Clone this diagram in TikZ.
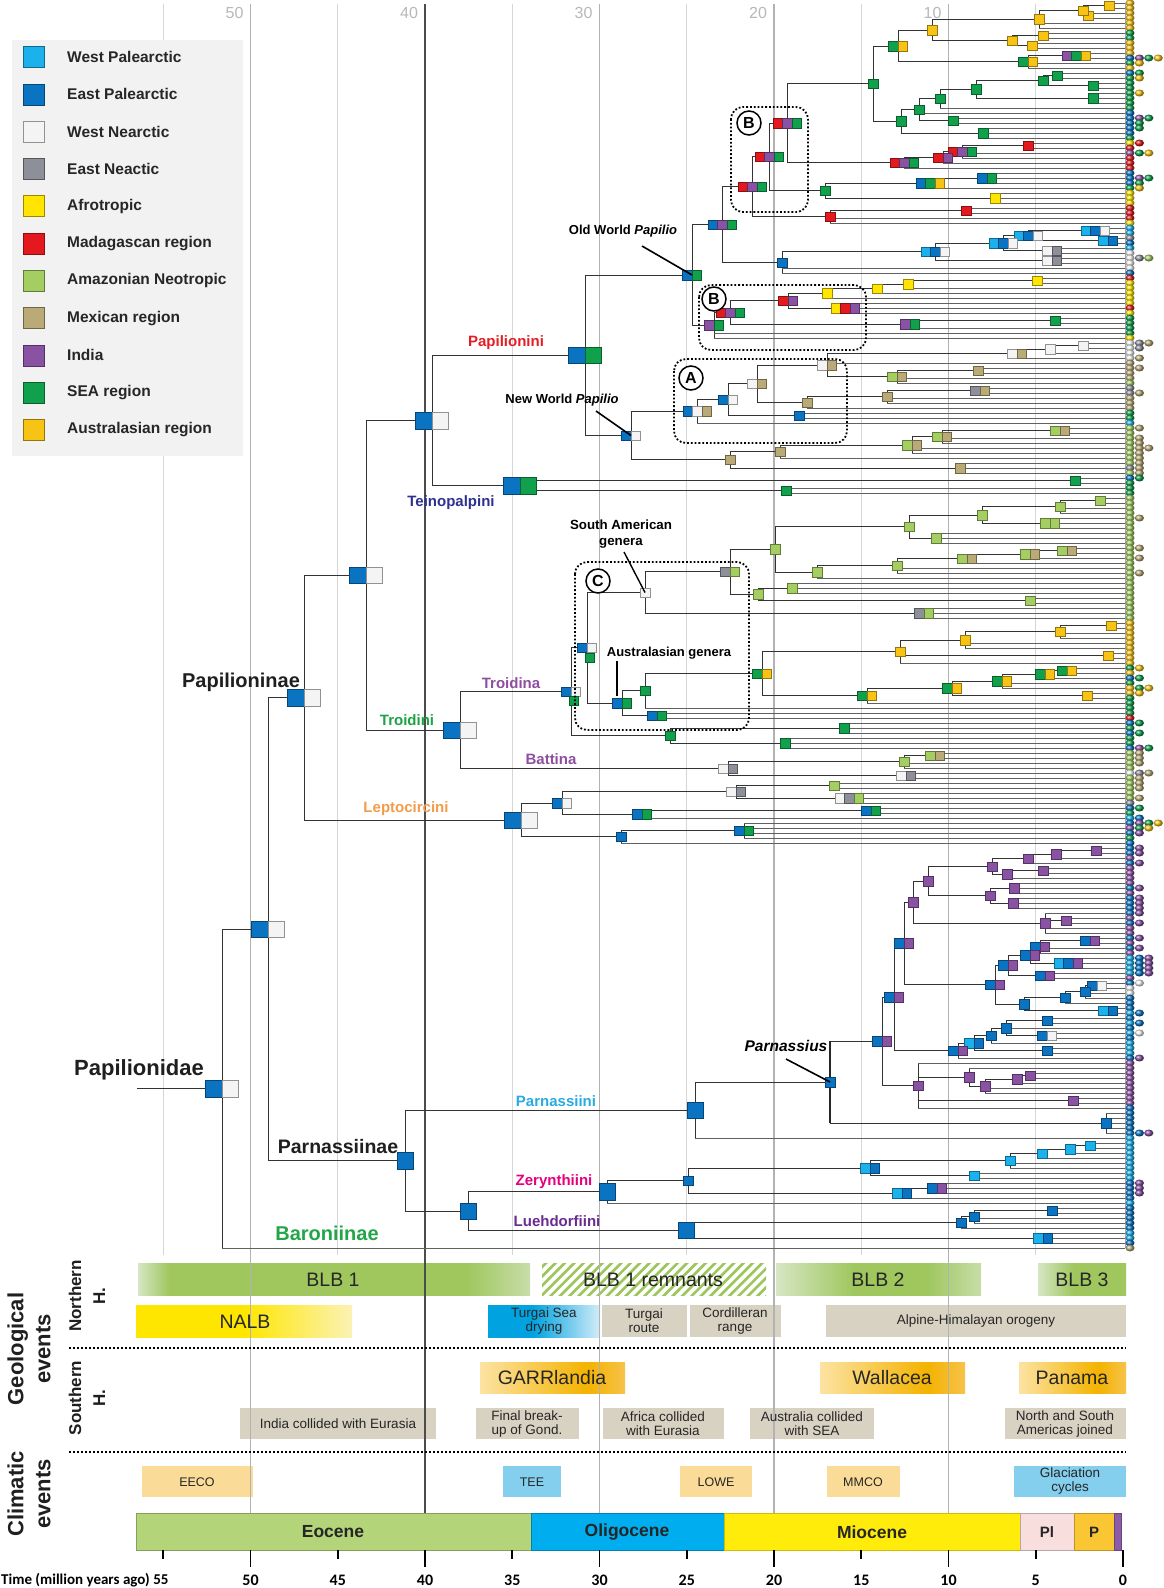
\documentclass[tikz,border=0pt]{standalone}
\usepackage{fontspec}
\setmainfont{Liberation Sans}
\newfontfamily\carl{Carlito}
\usetikzlibrary{shadings}
\definecolor{cW}{HTML}{1AB1EC}
\definecolor{cE}{HTML}{0B74C2}
\definecolor{cN}{HTML}{F4F4F4}
\definecolor{cK}{HTML}{8E9099}
\definecolor{cA}{HTML}{FFE500}
\definecolor{cM}{HTML}{E3191E}
\definecolor{cZ}{HTML}{A4CD62}
\definecolor{cX}{HTML}{B9AA78}
\definecolor{cI}{HTML}{8A52A3}
\definecolor{cS}{HTML}{11A04B}
\definecolor{cU}{HTML}{F7C415}
\definecolor{gLa}{HTML}{D6E6C3}
\definecolor{gM}{HTML}{9FC75E}
\definecolor{gLb}{HTML}{C8DDA8}
\definecolor{yA}{HTML}{FFE600}
\definecolor{yB}{HTML}{FBF2B5}
\definecolor{bA}{HTML}{00A3E0}
\definecolor{bB}{HTML}{D3ECF8}
\definecolor{oA}{HTML}{FCE3A3}
\definecolor{oB}{HTML}{F4B300}
\definecolor{oC}{HTML}{F6C24A}
\definecolor{cGry}{HTML}{D8D2C3}
\definecolor{cClO}{HTML}{FADC98}
\definecolor{cClB}{HTML}{84CEEE}
\definecolor{eoc}{HTML}{B4D47A}
\definecolor{oli}{HTML}{00AEEF}
\definecolor{mio}{HTML}{FFEC0A}
\definecolor{plio}{HTML}{F8DEDC}
\definecolor{plei}{HTML}{FBC634}
\definecolor{holo}{HTML}{8E5CA7}
\definecolor{legbg}{HTML}{F2F2F2}
\definecolor{hatch}{HTML}{9CC55A}
\definecolor{lPapni}{HTML}{E31E24}
\definecolor{lTein}{HTML}{2E3192}
\definecolor{lTroi}{HTML}{1BA345}
\definecolor{lPurp}{HTML}{8E4FA0}
\definecolor{lLept}{HTML}{F39C4A}
\definecolor{lParn}{HTML}{29ABE2}
\definecolor{lZer}{HTML}{E6007E}
\definecolor{lLue}{HTML}{6A2C8E}
\definecolor{lBar}{HTML}{22A648}
\pgfdeclarehorizontalshading{blbone}{100bp}{color(0bp)=(gLa); color(25bp)=(gLa); color(29bp)=(gM); color(67bp)=(gM); color(75bp)=(gLb); color(100bp)=(gLb)}
\pgfdeclarehorizontalshading{blbtwo}{100bp}{color(0bp)=(gLa); color(25bp)=(gLa); color(44bp)=(gM); color(62bp)=(gM); color(75bp)=(gLb); color(100bp)=(gLb)}
\pgfdeclarehorizontalshading{blbthree}{100bp}{color(0bp)=(gLa); color(25bp)=(gLa); color(45bp)=(gM); color(75bp)=(gM); color(100bp)=(gM)}
\pgfdeclarehorizontalshading{nalb}{100bp}{color(0bp)=(yA); color(25bp)=(yA); color(50bp)=(yA); color(75bp)=(yB); color(100bp)=(yB)}
\pgfdeclarehorizontalshading{turgai}{100bp}{color(0bp)=(bA); color(25bp)=(bA); color(45bp)=(bA); color(75bp)=(bB); color(100bp)=(bB)}
\pgfdeclarehorizontalshading{orng}{100bp}{color(0bp)=(oA); color(25bp)=(oA); color(62bp)=(oB); color(75bp)=(oC); color(100bp)=(oC)}
\newcommand\fs[2]{\fontsize{#1}{#2}\selectfont}
\tikzset{
  br/.style={draw=black!80, line width=1pt},
  tipl/.style={draw=black!62, line width=0.8pt},
  boxst/.style={fill=#1, draw=#1!60!black, line width=0.5pt},
  gbox/.style={fill=cGry},
  ptxt/.style={font=\fs{13.5}{15}, text=black!85, align=center, inner sep=0pt},
  btxt/.style={font=\fs{19.5}{22}, text=black!85, inner sep=0pt},
  ctxt/.style={font=\fs{12.5}{15}, text=black!85, align=center, inner sep=0pt},
  clab/.style={font=\fs{15}{17}\bfseries, inner sep=0pt},
  ann/.style={font=\fs{13}{15}\bfseries, inner sep=0pt, align=center},
  dotbox/.style={draw=black, line width=1.8pt, dash pattern=on 1.8pt off 2pt, rounded corners=12pt},
  circ/.style={draw=black, line width=1.5pt, circle, minimum size=24pt, inner sep=0pt, font=\fs{16}{16}\bfseries},
  sep/.style={draw=black, line width=2pt, dash pattern=on 2pt off 2pt},
  grid10/.style={draw=black!30, line width=1.1pt},
  grid40/.style={draw=black!70, line width=1.3pt},
  grid5/.style={draw=black!16, line width=1pt},
}
\newif\iflinepass
\newcommand\boxgrp[4]{%
  \gdef\nb{0}%
  \foreach \cc in {#4}{\xdef\nb{\the\numexpr\nb+1\relax}}%
  \foreach \cc [count=\kk from 0] in {#4}{%
    \pgfmathsetmacro\ddx{(\kk-\nb/2)*#1}%
    \pgfmathsetmacro\hhs{#1/2}%
    \path[boxst=c\cc] ([xshift=\ddx pt,yshift=-\hhs pt]#2,#3) rectangle ++(#1pt,#1pt);}}
\newcommand\tnode[8]{%
  \iflinepass
    \draw[br] (#4,#3) -- (#2,#3);
    \draw[br] (#2,#5) -- (#2,#6);
  \else
    \coordinate (#1) at (#2,#3);
    \boxgrp{#7}{#2}{#3}{#8}%
  \fi}
\newcommand\ttip[3]{%
  \iflinepass
    \draw[tipl] (#2,#1) -- (1125,#1);
  \else
    \shade[ball color=c#3] (1130,#1) ellipse [x radius=4.5pt,y radius=3.4pt];
  \fi}
\newcommand\tipx[2]{\foreach \cc [count=\kk] in {#2}{\shade[ball color=c\cc] ({1130+9.4*\kk},#1) ellipse [x radius=4.6pt,y radius=3.5pt];}}
\newcommand\treenodes{%
\tnode{u1}{1109}{0.5}{1083}{0}{1}{9.5}{U}
\tnode{u2}{1088}{2.5}{1083}{2}{3}{9.5}{U}
\tnode{u3}{1083}{1.5}{1039}{0.5}{2.5}{9.5}{U}
\tnode{u4}{1039}{3.25}{932}{1.5}{5}{9.5}{U}
\tnode{u5}{1043}{6.5}{1012}{6}{7}{9.5}{U}
\tnode{u6}{1032}{8.5}{1012}{8}{9}{9.5}{U}
\tnode{u7}{1012}{7.5}{932}{6.5}{8.5}{9.5}{U}
\tnode{u8}{932}{5.4}{898}{3.25}{7.5}{9.5}{U}
\tnode{u9}{1076}{10.5}{1028}{10}{11}{9.5}{I,S,U}
\tnode{u10}{1028}{11.75}{898}{10.5}{13}{9.5}{S,U}
\tnode{n6}{898}{8.6}{873}{5.4}{11.75}{9.5}{S,U}
\tnode{g1}{1057}{14.5}{1043}{14}{15}{9.5}{S}
\tnode{g2}{1093}{16.5}{1043}{16}{17}{9.5}{S}
\tnode{g3}{1043}{15.5}{976}{14.5}{16.5}{9.5}{S}
\tnode{g4}{1093}{19}{976}{18}{20}{9.5}{S}
\tnode{g5}{976}{17.25}{940}{15.5}{19}{9.5}{S}
\tnode{g6}{940}{19.1}{919}{17.25}{21}{9.5}{S}
\tnode{g8}{953}{23.5}{919}{23}{24}{9.5}{S}
\tnode{g7}{919}{21.3}{901}{19.1}{23.5}{9.5}{S}
\tnode{g9}{983}{26}{901}{25}{27}{9.5}{S}
\tnode{n66}{901}{23.65}{873}{21.3}{26}{9.5}{S}
\tnode{n5}{873}{16.1}{787}{8.6}{23.65}{9.5}{S}
\tnode{m1}{1028}{28.5}{962}{28}{29}{9.5}{M}
\tnode{m2}{962}{29.75}{943}{28.5}{31}{9.5}{M,I,S}
\tnode{m3}{943}{30.9}{904}{29.75}{32}{9.5}{M,I}
\tnode{n13}{904}{31.95}{787}{30.9}{33}{9.5}{M,I,S}
\tnode{n4}{787}{24}{769}{16.1}{31.95}{9.5}{M,I,S}
\tnode{n21}{987}{35}{930}{34}{36}{9.5}{E,S}
\tnode{n20}{930}{36}{825}{35}{37}{9.5}{E,S,U}
\tnode{n23}{995}{39}{825}{38}{40}{9.5}{A}
\tnode{n17}{825}{37.5}{769}{36}{39}{9.5}{S}
\tnode{n3}{769}{30.75}{752}{24}{37.5}{9.5}{M,I,S}
\tnode{n19}{966}{41.5}{830}{41}{42}{9.5}{M}
\tnode{n18}{830}{42.75}{752}{41.5}{44}{9.5}{M}
\tnode{n2}{752}{36.75}{722}{30.75}{42.75}{9.5}{M,I,S}
\tnode{n30}{1095}{45.5}{1028}{45}{46}{9.5}{W,E,N}
\tnode{n31}{1108}{47.5}{1028}{47}{48}{9.5}{W,E}
\tnode{n28}{1028}{46.5}{1003}{45.5}{47.5}{9.5}{W,E,N}
\tnode{n29}{1052}{49.5}{1003}{49}{50}{9.5}{N,K}
\tnode{n26}{1003}{48}{935}{46.5}{49.5}{9.5}{W,E,N}
\tnode{n27}{1052}{51.5}{935}{51}{52}{9.5}{N,K}
\tnode{n25}{935}{49.75}{782}{48}{51.5}{9.5}{W,E,N}
\tnode{n24}{782}{51.9}{722}{49.75}{54}{9.5}{E}
\tnode{n1}{722}{44.3}{692}{36.75}{51.9}{9.5}{E,I,S}
\tnode{n38}{1037}{55.5}{908}{55}{56}{9.5}{A}
\tnode{n37}{908}{56.25}{877}{55.5}{57}{9.5}{A}
\tnode{n36}{877}{57.1}{827}{56.25}{58}{9.5}{A}
\tnode{n35}{827}{58.05}{788}{57.1}{59}{9.5}{A}
\tnode{n39}{845}{61}{788}{60}{62}{9.5}{A,M,I}
\tnode{n34}{788}{59.5}{730}{58.05}{61}{9.5}{M,I}
\tnode{n41}{1055}{63.5}{910}{63}{64}{9.5}{S}
\tnode{n40}{910}{64.25}{730}{63.5}{65}{9.5}{I,S}
\tnode{n33}{730}{61.9}{714}{59.5}{64.25}{9.5}{M,I,S}
\tnode{n32}{714}{64.45}{692}{61.9}{67}{9.5}{I,S}
\tnode{OW}{692}{54.4}{585}{44.3}{64.45}{9.5}{E,S}
\tnode{n57}{1083}{68.5}{1050}{68}{69}{9.5}{N}
\tnode{n58}{1050}{69.25}{1017}{68.5}{70}{9.5}{N}
\tnode{n59}{1017}{70.1}{827}{69.25}{71}{9.5}{N,X}
\tnode{n60}{978}{73.5}{897}{73}{74}{9.5}{X}
\tnode{n61}{897}{74.75}{827}{73.5}{76}{9.5}{Z,X}
\tnode{n55}{827}{72.4}{757}{70.1}{74.75}{9.5}{N,X}
\tnode{n62}{980}{77.5}{887}{77}{78}{9.5}{K,X}
\tnode{n63}{887}{78.75}{807}{77.5}{80}{9.5}{X}
\tnode{n53}{807}{79.9}{757}{78.75}{81}{9.5}{X}
\tnode{n52}{757}{76.15}{728}{72.4}{79.9}{9.5}{N,X}
\tnode{n51}{799}{82.5}{728}{82}{83}{9.5}{E}
\tnode{n50}{728}{79.3}{697}{76.15}{82.5}{9.5}{E,N}
\tnode{n43}{697}{81.65}{631}{79.3}{84}{9.5}{E,N,X}
\tnode{n49}{1060}{85.5}{942}{85}{86}{9.5}{Z,X}
\tnode{n48}{942}{86.75}{912}{85.5}{88}{9.5}{Z,X}
\tnode{n47}{912}{88.4}{780}{86.75}{90}{9.5}{Z,X}
\tnode{n45}{780}{89.7}{730}{88.4}{91}{9.5}{X}
\tnode{n46}{960}{93}{730}{92}{94}{9.5}{X}
\tnode{n44}{730}{91.35}{631}{89.7}{93}{9.5}{X}
\tnode{NW}{631}{86.5}{585}{81.65}{91.35}{9.5}{E,N}
\tnode{PAPni}{585}{70.45}{432}{54.4}{86.5}{16.5}{E,S}
\tnode{n64}{1075}{95.5}{520}{95}{96}{9.5}{S}
\tnode{n65}{786}{97.5}{520}{97}{98}{9.5}{S}
\tnode{TEIN}{520}{96.5}{432}{95.5}{97.5}{16.5}{E,S}
\tnode{N432}{432}{83.5}{366}{70.45}{96.5}{16.5}{E,N}
\tnode{s8}{1100}{99.5}{1060}{99}{100}{9.5}{Z}
\tnode{s9}{1060}{100.75}{982}{99.5}{102}{9.5}{Z}
\tnode{s10}{1050}{104}{982}{103}{105}{9.5}{Z,Z}
\tnode{s6}{982}{102.4}{909}{100.75}{104}{9.5}{Z}
\tnode{s7}{936}{107}{909}{106}{108}{9.5}{Z}
\tnode{s4}{909}{104.7}{775}{102.4}{107}{9.5}{Z}
\tnode{s11}{1067}{109.5}{1030}{109}{110}{9.5}{Z,X}
\tnode{s12}{1030}{110.25}{967}{109.5}{111}{9.5}{Z,X}
\tnode{s13}{967}{111.1}{897}{110.25}{112}{9.5}{Z,X}
\tnode{s14}{897}{112.55}{817}{111.1}{114}{9.5}{Z}
\tnode{s5}{817}{113.8}{775}{112.55}{115}{9.5}{Z}
\tnode{s2}{775}{109.25}{730}{104.7}{113.8}{9.5}{Z}
\tnode{s15}{792}{117}{758}{116}{118}{9.5}{Z}
\tnode{s16}{1030}{119.5}{758}{119}{120}{9.5}{Z}
\tnode{s3}{758}{118.25}{730}{117}{119.5}{9.5}{Z}
\tnode{s1}{730}{113.75}{645}{109.25}{118.25}{9.5}{K,Z}
\tnode{s17}{924}{122}{645}{121}{123}{9.5}{K,Z}
\tnode{SA}{645}{117.9}{587}{113.75}{122}{9.5}{N}
\tnode{a6}{1111}{124.5}{1060}{124}{125}{9.5}{U}
\tnode{a7}{1060}{125.75}{965}{124.5}{127}{9.5}{U}
\tnode{a8}{965}{127.4}{900}{125.75}{129}{9.5}{U}
\tnode{a9}{1108}{130.5}{900}{130}{131}{9.5}{U}
\tnode{a3}{900}{129.7}{762}{127.4}{132}{9.5}{U}
\tnode{a10}{1067}{133.5}{1045}{133}{134}{9.5}{S,U}
\tnode{a11}{1045}{134.25}{1002}{133.5}{135}{9.5}{S,U}
\tnode{a12}{1002}{135.6}{952}{134.25}{137}{9.5}{S,U}
\tnode{a13}{1087}{138.5}{952}{138}{139}{9.5}{U}
\tnode{a14}{952}{137.05}{867}{135.6}{138.5}{9.5}{S,U}
\tnode{a4}{867}{138.5}{762}{137.05}{140}{9.5}{S,U}
\tnode{a2}{762}{134.1}{645}{129.7}{138.5}{9.5}{S,U}
\tnode{a1}{645}{137.55}{622}{134.1}{141}{9.5}{S}
\tnode{a15}{657}{142.5}{622}{142}{143}{9.5}{E,S}
\tnode{AUS}{622}{140}{587}{137.55}{142.5}{9.5}{E,S}
\tnode{CC}{587}{128.95}{571}{117.9}{140}{9.5}{E,N}
\tnode{t2}{844}{145}{670}{144}{146}{9.5}{S}
\tnode{t3}{785}{148}{670}{147}{149}{9.5}{S}
\tnode{t1}{670}{146.5}{571}{145}{148}{9.5}{S}
\tnode{TROIDINA}{571}{137.7}{460}{128.95}{146.5}{9.5}{E,N}
\tnode{b2}{935}{150.5}{904}{150}{151}{9.5}{Z,X}
\tnode{b1}{904}{151.75}{728}{150.5}{153}{9.5}{Z}
\tnode{b3}{906}{154.5}{728}{154}{155}{9.5}{N,K}
\tnode{BATT}{728}{153.1}{460}{151.75}{154.5}{9.5}{N,K}
\tnode{TROIDINI}{460}{145.4}{366}{137.7}{153.1}{16.5}{E,N}
\tnode{l4}{834}{156.5}{736}{156}{157}{9.5}{Z}
\tnode{l5}{849}{159}{736}{158}{160}{9.5}{N,K,Z}
\tnode{l2}{736}{157.75}{562}{156.5}{159}{9.5}{N,K}
\tnode{l6}{871}{161.5}{642}{161}{162}{9.5}{E,S}
\tnode{l3}{642}{162.25}{562}{161.5}{163}{9.5}{E,S}
\tnode{l1}{562}{160}{521}{157.75}{162.25}{9.5}{E,N}
\tnode{l8}{744}{165.5}{621}{164}{167}{9.5}{E,S}
\tnode{l7}{621}{166.75}{521}{165.5}{168}{9.5}{E}
\tnode{LEPTO}{521}{163.4}{304}{160}{166.75}{16.5}{E,N}
\tnode{N366}{366}{114.45}{304}{83.5}{145.4}{16.5}{E,N}
\tnode{PAPnae}{304}{138.9}{268}{114.45}{163.4}{16.5}{E,N}
\tnode{p1}{1096}{169.5}{1056}{169}{170}{9.5}{I}
\tnode{p2}{1056}{170.25}{1028}{169.5}{171}{9.5}{I}
\tnode{p3}{1028}{171.1}{992}{170.25}{172}{9.5}{I}
\tnode{p4}{1043}{173.5}{1007}{173}{174}{9.5}{I}
\tnode{p5}{1007}{174.25}{992}{173.5}{175}{9.5}{I}
\tnode{p6}{992}{172.7}{928}{171.1}{174.25}{9.5}{I}
\tnode{p7}{1014}{177}{990}{176}{178}{9.5}{I}
\tnode{p8}{1013}{180}{990}{179}{181}{9.5}{I}
\tnode{p9}{990}{178.5}{928}{177}{180}{9.5}{I}
\tnode{p10}{928}{175.6}{913}{172.7}{178.5}{9.5}{I}
\tnode{p11}{1066}{183.5}{1045}{183}{184}{9.5}{I}
\tnode{p12}{1045}{184}{913}{182}{186}{9.5}{I}
\tnode{p13}{913}{179.8}{904}{175.6}{184}{9.5}{I}
\tnode{q1}{1090}{187.5}{1040}{187}{188}{9.5}{E,I}
\tnode{q2}{1040}{188.75}{1030}{187.5}{190}{9.5}{E,I}
\tnode{q3}{1068}{192}{1030}{191}{193}{9.5}{W,E,I}
\tnode{q4}{1030}{190.4}{1008}{188.75}{192}{9.5}{E,I}
\tnode{q5}{1045}{194.5}{1008}{194}{195}{9.5}{E,I}
\tnode{q6}{1008}{192.45}{995}{190.4}{194.5}{9.5}{E,I}
\tnode{q7}{1097}{196.5}{1085}{196}{197}{9.5}{E,N}
\tnode{q8}{1085}{197.75}{1065}{196.5}{199}{9.5}{E}
\tnode{q9}{1065}{198.9}{1024}{197.75}{200}{9.5}{E}
\tnode{q10}{1108}{201.5}{1024}{201}{202}{9.5}{W,E}
\tnode{q11}{1024}{200.2}{995}{198.9}{201.5}{9.5}{E}
\tnode{q12}{995}{196.3}{904}{192.45}{200.2}{9.5}{E,I}
\tnode{q13}{904}{188.05}{894}{179.8}{196.3}{9.5}{E,I}
\tnode{q14}{1047}{203.5}{1006}{203}{204}{9.5}{E}
\tnode{q15}{1047}{206.5}{1006}{206}{207}{9.5}{E,N}
\tnode{q16}{1006}{205}{991}{203.5}{206.5}{9.5}{E}
\tnode{q17}{991}{206.5}{974}{205}{208}{9.5}{E}
\tnode{q18}{1047}{209.5}{974}{209}{210}{9.5}{E}
\tnode{q19}{974}{208}{958}{206.5}{209.5}{9.5}{W,E}
\tnode{q20}{958}{209.5}{894}{208}{211}{9.5}{E,I}
\tnode{q21}{894}{198.8}{882}{188.05}{209.5}{9.5}{E,I}
\tnode{r1}{1030}{214.5}{1017}{214}{215}{9.5}{I}
\tnode{r2}{1017}{215.25}{985}{214.5}{216}{9.5}{I}
\tnode{r3}{985}{216.6}{969}{215.25}{218}{9.5}{I}
\tnode{r4}{969}{214.8}{918}{213}{216.6}{9.5}{I}
\tnode{r5}{1073}{219.5}{918}{219}{220}{9.5}{I}
\tnode{r6}{918}{216.5}{882}{212}{221}{9.5}{I}
\tnode{q22}{882}{207.65}{830}{198.8}{216.5}{9.5}{E,I}
\tnode{r7}{1106}{224}{830}{222}{226}{9.5}{E}
\tnode{PARNS}{830}{215.8}{695}{207.65}{224}{9.5}{E}
\tnode{PARNI}{695}{221.4}{405}{215.8}{227}{16.5}{E}
\tnode{z1}{1090}{228.5}{1070}{228}{229}{9.5}{W}
\tnode{z2}{1070}{229.25}{1042}{228.5}{230}{9.5}{W}
\tnode{z3}{1042}{230.1}{1010}{229.25}{231}{9.5}{W}
\tnode{z4}{1010}{231.55}{870}{230.1}{233}{9.5}{W}
\tnode{z5}{974}{234.5}{870}{234}{235}{9.5}{W}
\tnode{z6}{870}{233}{688}{231.55}{234.5}{9.5}{W,E}
\tnode{z7}{937}{237}{902}{236}{238}{9.5}{E,I}
\tnode{z8}{902}{238}{688}{237}{239}{9.5}{W,E}
\tnode{z9}{688}{235.5}{607}{233}{238}{9.5}{E}
\tnode{ZER}{607}{237.75}{468}{235.5}{240}{16.5}{E}
\tnode{h1}{1052}{241.5}{974}{241}{242}{9.5}{E}
\tnode{h2}{974}{242.75}{961}{241.5}{244}{9.5}{E}
\tnode{h3}{961}{243.9}{686}{242.75}{245}{9.5}{E}
\tnode{h4}{1043}{247}{686}{246}{248}{9.5}{W,E}
\tnode{LUEH}{686}{245.45}{468}{243.9}{247}{16.5}{E}
\tnode{ZL}{468}{241.6}{405}{237.75}{245.45}{16.5}{E}
\tnode{PARNAE}{405}{231.5}{268}{221.4}{241.6}{16.5}{E}
\tnode{PP}{268}{185.2}{222}{138.9}{231.5}{16.5}{E,N}
\tnode{ROOT}{222}{217.1}{137}{185.2}{249}{16.5}{E,N}
}
\newcommand\treetips{%
\foreach \i/\p/\cc in {0/1109/U,1/1109/U,2/1088/U,3/1088/U,4/1039/U,5/1039/U,6/1043/S,7/1043/S,8/1032/U,9/1032/U,
10/1076/U,11/1076/E,12/1028/S,13/1028/U,14/1057/E,15/1057/S,16/1093/S,17/1093/S,18/1093/S,19/1093/S,
20/1093/S,21/940/S,22/919/E,23/953/E,24/953/E,25/983/E,26/983/E,27/983/S,28/1028/A,29/1028/M,
30/962/I,31/962/M,32/943/M,33/904/M,34/987/E,35/987/E,36/987/E,37/930/S,38/995/A,39/995/A,
40/995/A,41/966/M,42/966/M,43/830/M,44/830/A,45/1095/W,46/1095/W,47/1108/K,48/1108/E,49/1052/W,
50/1052/N,51/1052/N,52/1052/N,53/782/N,54/782/E,55/1037/M,56/1037/A,57/908/A,58/877/A,59/827/A,
60/845/A,61/845/M,62/845/A,63/1055/S,64/1055/S,65/910/S,66/714/S,67/714/A,68/1083/N,69/1083/N,
70/1050/N,71/1017/N,72/827/X,73/978/X,74/978/X,75/897/X,76/897/Z,77/980/K,78/980/K,79/887/X,
80/887/X,81/807/X,82/799/S,83/799/S,84/697/W,85/1060/Z,86/1060/Z,87/942/Z,88/942/Z,89/912/Z,
90/912/Z,91/780/Z,92/960/Z,93/960/K,94/960/Z,95/1075/E,96/1075/S,97/786/S,98/786/S,99/1100/Z,
100/1100/Z,101/1060/Z,102/1060/Z,103/1050/Z,104/1050/Z,105/1050/Z,106/936/Z,107/936/Z,108/936/Z,109/1067/Z,
110/1067/Z,111/1030/Z,112/967/Z,113/897/Z,114/897/Z,115/817/Z,116/792/Z,117/792/Z,118/792/Z,119/1030/Z,
120/1030/Z,121/924/Z,122/924/Z,123/924/Z,124/1111/U,125/1111/U,126/1060/U,127/1060/U,128/965/U,129/965/U,
130/1108/U,131/1108/U,132/900/U,133/1067/S,134/1067/U,135/1045/E,136/1002/S,137/1002/U,138/1087/U,139/1087/S,
140/867/S,141/645/S,142/657/S,143/657/M,144/844/E,145/844/S,146/844/E,147/785/S,148/785/S,149/785/E,
150/935/Z,151/935/Z,152/904/Z,153/904/Z,154/906/N,155/906/Z,156/834/Z,157/834/Z,158/849/Z,159/849/Z,
160/849/K,161/871/E,162/871/S,163/642/W,164/744/E,165/744/I,166/744/E,167/744/S,168/621/E,169/1096/E,
170/1096/E,171/1056/I,172/1028/E,173/1043/I,174/1043/I,175/1007/I,176/1014/I,177/1014/E,178/1014/I,179/1013/E,
180/1013/E,181/1013/E,182/1045/E,183/1066/I,184/1066/E,185/1045/I,186/1045/I,187/1090/E,188/1090/I,189/1040/E,
190/1040/I,191/1068/W,192/1068/W,193/1068/W,194/1045/W,195/1045/I,196/1097/E,197/1097/N,198/1085/N,199/1085/E,
200/1065/E,201/1108/E,202/1108/W,203/1047/E,204/1047/W,205/1006/E,206/1047/W,207/1047/E,208/991/W,209/1047/W,
210/1047/W,211/958/E,212/918/I,213/969/I,214/1030/I,215/1030/I,216/1017/I,217/985/I,218/985/I,219/1073/I,
220/1073/I,221/918/E,222/1106/E,223/1106/E,224/1106/E,225/1106/E,226/1106/E,227/695/W,228/1090/W,229/1090/W,
230/1070/W,231/1042/W,232/1010/W,233/1010/W,234/974/W,235/974/W,236/937/E,237/937/E,238/937/E,239/902/E,
240/607/W,241/1052/E,242/1052/E,243/974/E,244/974/E,245/961/E,246/1043/W,247/1043/W,248/1043/E,249/222/X}{\ttip{\i}{\p}{\cc}}}
\begin{document}
\begin{tikzpicture}[x=1pt,y=-1pt]
\useasboundingbox (0,0) rectangle (1163,1588);
\fill[white] (0,0) rectangle (1163,1588);
% ---- panels
\shade[shading=blbone] (138,1263) rectangle (530,1295);
\begin{scope}
\clip (542,1263) rectangle (766,1295);
\foreach \kk in {0,...,27}{\draw[hatch, line width=2.6pt] ({512+\kk*9.4},1297) -- ++(36,-36);}
\end{scope}
\shade[shading=blbtwo] (776,1263) rectangle (981,1295);
\shade[shading=blbthree] (1038,1263) rectangle (1126,1295);
\shade[shading=nalb] (136,1305) rectangle (352,1337);
\shade[shading=turgai] (488,1305) rectangle (600,1337);
\fill[gbox] (602,1305) rectangle (687,1337);
\fill[gbox] (690,1305) rectangle (781,1337);
\fill[gbox] (826,1305) rectangle (1126,1337);
\shade[shading=orng] (480,1362) rectangle (625,1393);
\shade[shading=orng] (820,1362) rectangle (965,1393);
\shade[shading=orng] (1019,1362) rectangle (1126,1393);
\fill[gbox] (240,1408) rectangle (436,1439);
\fill[gbox] (476,1408) rectangle (579,1439);
\fill[gbox] (603,1408) rectangle (724,1439);
\fill[gbox] (750,1408) rectangle (874,1439);
\fill[gbox] (1005,1408) rectangle (1126,1439);
\fill[cClO] (142,1466) rectangle (253,1497);
\fill[cClB] (503,1466) rectangle (561,1497);
\fill[cClO] (680,1466) rectangle (752,1497);
\fill[cClO] (827,1466) rectangle (900,1497);
\fill[cClB] (1014,1466) rectangle (1126,1497);
% ---- grid lines
\foreach \t in {55,45,35,25,15,5}{\draw[grid5] ({1123-17.45*\t},4) -- ({1123-17.45*\t},1255);}
\foreach \t in {50,30,20,10}{\draw[grid10] ({1123-17.45*\t},4) -- ({1123-17.45*\t},1513);}
\draw[grid40] (425,4) -- (425,1513);
% ---- top axis numbers
\foreach \t in {50,40,30,20,10}{\node[font=\fs{16}{16}, text=black!28, inner sep=0pt] (top\t) at ({1123-17.45*\t-16},13) {\t};}
% ---- legend
\fill[legbg] (12,40) rectangle (243,456);
\foreach \cc/\lab [count=\kk from 0] in {W/West Palearctic,E/East Palearctic,N/West Nearctic,K/East Neactic,A/Afrotropic,M/Madagascan region,Z/Amazonian Neotropic,X/Mexican region,I/India,S/SEA region,U/Australasian region}{
  \path[boxst=c\cc] (23,{57+37.3*\kk-10.5}) rectangle (44,{57+37.3*\kk+10.5});
  \node[anchor=west, font=\fs{15.5}{17}\bfseries, text=black!85, inner sep=0pt] (leg\kk) at (67,{57+37.3*\kk}) {\lab};}
% ---- tree
\begin{scope}[yshift=-3pt,y=-5pt]
\linepasstrue
\treenodes
\treetips
\draw[black!35, line width=0.8pt] (1125,0) -- (1125,249);
\draw[line width=2.4pt, black!85] (830,207.65) -- (830,224);
\linepassfalse
\treenodes
\boxgrp{9}{590}{130.9}{S}
\boxgrp{9}{574}{139.5}{S}
\treetips
\tipx{11}{I,S,U}\tipx{12}{U}\tipx{14}{S}\tipx{15}{U}\tipx{18}{U}\tipx{23}{I,S}\tipx{24}{S}\tipx{25}{S}
\tipx{28}{M}\tipx{30}{S,U}\tipx{35}{I,S}\tipx{36}{S}\tipx{37}{U}\tipx{51}{K,Z}\tipx{68}{K,X}\tipx{69}{K}
\tipx{71}{X}\tipx{73}{X}\tipx{78}{X}\tipx{85}{X}\tipx{87}{X}\tipx{88}{X}\tipx{89}{X,X}\tipx{90}{X}
\tipx{91}{X}\tipx{92}{X}\tipx{93}{X}\tipx{94}{X}\tipx{95}{S}\tipx{103}{X}\tipx{109}{X}\tipx{111}{X}
\tipx{114}{X}\tipx{133}{U}\tipx{135}{S}\tipx{137}{S,U}\tipx{138}{U}\tipx{144}{S}\tipx{146}{S}\tipx{149}{I,S}
\tipx{150}{X}\tipx{151}{X}\tipx{152}{X}\tipx{154}{K,X}\tipx{155}{X}\tipx{156}{X}\tipx{157}{X}\tipx{159}{X}
\tipx{161}{S}\tipx{163}{E}\tipx{164}{I,S,U}\tipx{165}{S,U}\tipx{166}{I}\tipx{169}{I}\tipx{170}{I}\tipx{172}{I}
\tipx{177}{I}\tipx{179}{I}\tipx{180}{I}\tipx{181}{I}\tipx{182}{I}\tipx{184}{I}\tipx{187}{I}\tipx{189}{I}
\tipx{191}{E,I}\tipx{192}{E,I}\tipx{193}{E,I}\tipx{194}{E,I}\tipx{196}{N}\tipx{202}{E}\tipx{204}{E}\tipx{206}{N}
\tipx{211}{I}\tipx{226}{E,I}\tipx{236}{I}\tipx{237}{I}\tipx{238}{I}
\end{scope}
% ---- dotted highlight boxes and circled letters
\draw[dotbox] (731,107) rectangle (808,212);
\draw[dotbox] (699,285) rectangle (866,350);
\draw[dotbox] (674,359) rectangle (847,443);
\draw[dotbox] (575,562) rectangle (749,730);
\node[circ, fill=white] (cB1) at (749,123) {B};
\node[circ, fill=white] (cB2) at (714,299) {B};
\node[circ, fill=white] (cA) at (691,378) {A};
\node[circ, fill=white] (cC) at (598,581) {C};
% ---- annotations
\node[ann] (owl) at (623,231) {Old World \textit{Papilio}};
\draw[line width=1.6pt] (642,246) -- (OW);
\node[ann] (nwl) at (562,400) {New World \textit{Papilio}};
\draw[line width=1.6pt] (596,411) -- (NW);
\node[ann, font=\fs{13.3}{16}\bfseries] (sal) at (621,534) {South American\\genera};
\draw[line width=1.4pt] (624,552) -- (SA);
\node[ann] (ausl) at (669,653) {Australasian genera};
\draw[line width=1.6pt] (617,661) -- (617,696);
\node[ann, font=\fs{15.5}{17}\bfseries\itshape] (parl) at (786,1046) {Parnassius};
\draw[line width=1.6pt] (786,1059) -- (PARNS);
% ---- clade labels
\node[clab, font=\fs{22}{24}\bfseries, text=black!88] (lPapidae) at (139,1070) {Papilionidae};
\node[clab, font=\fs{20}{22}\bfseries, text=black!88] (lPapinae) at (241,682) {Papilioninae};
\node[clab, font=\fs{19.5}{22}\bfseries, text=black!88] (lParnae) at (338,1147) {Parnassiinae};
\node[clab, font=\fs{20}{22}\bfseries, text=lBar] (lBaro) at (327,1233) {Baroniinae};
\node[clab, text=lPapni] (lPapni) at (506,343) {Papilionini};
\node[clab, text=lTein] (lTein) at (451,503) {Teinopalpini};
\node[clab, text=lTroi] (lTroi) at (407,720) {Troidini};
\node[clab, text=lPurp] (lTroa) at (511,683) {Troidina};
\node[clab, text=lPurp] (lBatt) at (551,759) {Battina};
\node[clab, text=lLept] (lLept) at (406,809) {Leptocircini};
\node[clab, text=lParn] (lParni) at (556,1101) {Parnassiini};
\node[clab, text=lZer] (lZer) at (554,1182) {Zerynthiini};
\node[clab, text=lLue] (lLue) at (557,1221) {Luehdorfiini};
% ---- panel texts
\node[btxt] (tblb1) at (333,1280) {BLB 1};
\node[btxt] (tblbr) at (653,1280) {BLB 1 remnants};
\node[btxt] (tblb2) at (878,1280) {BLB 2};
\node[btxt] (tblb3) at (1082,1280) {BLB 3};
\node[btxt] (tnalb) at (245,1322) {NALB};
\node[ptxt] (tturs) at (544,1321) {Turgai Sea\\[-1pt]drying};
\node[ptxt] (tturr) at (644,1321) {Turgai\\[-1pt]route};
\node[ptxt] (tcord) at (735,1321) {Cordilleran\\[-1pt]range};
\node[ptxt] (talp) at (976,1321) {Alpine-Himalayan orogeny};
\node[btxt] (tgarr) at (552,1378) {GARRlandia};
\node[btxt] (twall) at (892,1378) {Wallacea};
\node[btxt] (tpan) at (1072,1378) {Panama};
\node[ptxt] (tind) at (338,1424) {India collided with Eurasia};
\node[ptxt] (tgond) at (527,1424) {Final break-\\[-1pt]up of Gond.};
\node[ptxt] (tafr) at (663,1424) {Africa collided\\[-1pt]with Eurasia};
\node[ptxt] (taus) at (812,1424) {Australia collided\\[-1pt]with SEA};
\node[ptxt] (tnsa) at (1065,1424) {North and South\\[-1pt]Americas joined};
\node[ctxt] (teeco) at (197,1482) {EECO};
\node[ctxt] (ttee) at (532,1482) {TEE};
\node[ctxt] (tlowe) at (716,1482) {LOWE};
\node[ctxt] (tmmco) at (863,1482) {MMCO};
\node[ptxt] (tglac) at (1070,1481) {Glaciation\\[-1pt]cycles};
\draw[sep] (69,1348) -- (1126,1348);
\draw[sep] (69,1452) -- (1126,1452);
\node[rotate=90, align=center, font=\fs{22}{27}\bfseries, text=black!88, inner sep=0pt] (geo) at (29,1349) {Geological\\events};
\node[rotate=90, align=center, font=\fs{22}{27}\bfseries, text=black!88, inner sep=0pt] (clim) at (29,1494) {Climatic\\events};
\node[rotate=90, align=center, font=\fs{17}{24}\bfseries, text=black!88, inner sep=0pt] (north) at (87,1296) {Northern\\H.};
\node[rotate=90, align=center, font=\fs{17}{24}\bfseries, text=black!88, inner sep=0pt] (south) at (87,1398) {Southern\\H.};
% ---- epoch bar
\path[fill=eoc, draw=eoc!75!black, line width=0.6pt] (136,1513) rectangle (531,1550);
\path[fill=oli, draw=oli!75!black, line width=0.6pt] (531,1513) rectangle (724,1550);
\path[fill=mio, draw=mio!80!black, line width=0.6pt] (724,1513) rectangle (1020,1550);
\path[fill=plio, draw=plio!75!black, line width=0.6pt] (1020,1513) rectangle (1074,1550);
\path[fill=plei, draw=plei!75!black, line width=0.6pt] (1074,1513) rectangle (1114,1550);
\path[fill=holo, draw=holo!75!black, line width=0.6pt] (1114,1513) rectangle (1121,1550);
\node[font=\fs{17.5}{19}\bfseries, text=black!85, inner sep=0pt] (eeo) at (333,1532) {Eocene};
\node[font=\fs{17.5}{19}\bfseries, text=black!85, inner sep=0pt] (eol) at (627,1532) {Oligocene};
\node[font=\fs{17.5}{19}\bfseries, text=black!85, inner sep=0pt] (emi) at (872,1532) {Miocene};
\node[font=\fs{15}{17}\bfseries, text=black!85, inner sep=0pt] (epl) at (1047,1532) {Pl};
\node[font=\fs{15}{17}\bfseries, text=black!85, inner sep=0pt] (ep) at (1094,1532) {P};
% ---- time axis
\foreach \t in {55,45,35,25,15,5}{\draw[line width=1.6pt] ({1123-17.45*\t},1550) -- ({1123-17.45*\t},1559);}
\foreach \t in {50,40,30,20,10,0}{\draw[line width=1.6pt] ({1123-17.45*\t},1550) -- ({1123-17.45*\t},1567);}
\foreach \t in {50,45,40,35,30,25,20,15,10,5,0}{\node[font=\carl\fs{16}{18}\bfseries, inner sep=0pt] (tk\t) at ({1123-17.45*\t},1580) {\t};}
\node[anchor=west, font=\carl\fs{15}{17}\bfseries, inner sep=0pt] (taxis) at (1,1580) {Time (million years ago) 55};
\end{tikzpicture}
\end{document}
